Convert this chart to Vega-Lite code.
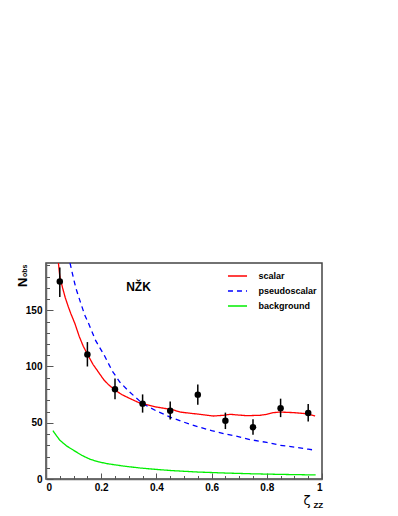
{
  "$schema": "https://vega.github.io/schema/vega-lite/v6.json",
  "width": 276,
  "height": 216,
  "autosize": "none",
  "padding": {"left": 46, "top": 263, "right": 76, "bottom": 37},
  "background": "white",
  "config": {
    "view": {"stroke": "#444", "strokeWidth": 1.5},
    "axis": {"grid": false, "domainColor": "#666", "domainWidth": 1.5, "tickColor": "#555", "tickWidth": 1, "labelFont": "Liberation Sans", "labelFontWeight": "bold", "labelFontSize": 10, "labelColor": "black", "titleColor": "black"},
    "legend": {"symbolType": "M-2.5,0H2.5", "symbolSize": 58, "symbolStrokeWidth": 1.5, "labelFont": "Liberation Sans", "labelFontWeight": "bold", "labelFontSize": 9, "labelColor": "black", "labelOffset": 16, "rowPadding": 5, "padding": 0}
  },
  "datasets": {
    "curves": [
      {"x": 0.045, "y": 192, "series": "scalar"},
      {"x": 0.05, "y": 180, "series": "scalar"},
      {"x": 0.06, "y": 170, "series": "scalar"},
      {"x": 0.07, "y": 161, "series": "scalar"},
      {"x": 0.081, "y": 153, "series": "scalar"},
      {"x": 0.09, "y": 147, "series": "scalar"},
      {"x": 0.105, "y": 138, "series": "scalar"},
      {"x": 0.12, "y": 127, "series": "scalar"},
      {"x": 0.135, "y": 118, "series": "scalar"},
      {"x": 0.15, "y": 111, "series": "scalar"},
      {"x": 0.17, "y": 102, "series": "scalar"},
      {"x": 0.19, "y": 95, "series": "scalar"},
      {"x": 0.21, "y": 88, "series": "scalar"},
      {"x": 0.226, "y": 84, "series": "scalar"},
      {"x": 0.25, "y": 79, "series": "scalar"},
      {"x": 0.275, "y": 75, "series": "scalar"},
      {"x": 0.3, "y": 72, "series": "scalar"},
      {"x": 0.34, "y": 67.5, "series": "scalar"},
      {"x": 0.4, "y": 64, "series": "scalar"},
      {"x": 0.46, "y": 61.5, "series": "scalar"},
      {"x": 0.486, "y": 59.5, "series": "scalar"},
      {"x": 0.52, "y": 58.5, "series": "scalar"},
      {"x": 0.558, "y": 57.5, "series": "scalar"},
      {"x": 0.606, "y": 56, "series": "scalar"},
      {"x": 0.643, "y": 56.6, "series": "scalar"},
      {"x": 0.667, "y": 57.5, "series": "scalar"},
      {"x": 0.7, "y": 56.8, "series": "scalar"},
      {"x": 0.727, "y": 56.3, "series": "scalar"},
      {"x": 0.775, "y": 56.6, "series": "scalar"},
      {"x": 0.8, "y": 57.5, "series": "scalar"},
      {"x": 0.824, "y": 59, "series": "scalar"},
      {"x": 0.848, "y": 59.5, "series": "scalar"},
      {"x": 0.897, "y": 59, "series": "scalar"},
      {"x": 0.945, "y": 58, "series": "scalar"},
      {"x": 0.975, "y": 56, "series": "scalar"},
      {"x": 0.087, "y": 192, "series": "pseudoscalar"},
      {"x": 0.1, "y": 178, "series": "pseudoscalar"},
      {"x": 0.109, "y": 169, "series": "pseudoscalar"},
      {"x": 0.125, "y": 157, "series": "pseudoscalar"},
      {"x": 0.14, "y": 146, "series": "pseudoscalar"},
      {"x": 0.153, "y": 139, "series": "pseudoscalar"},
      {"x": 0.18, "y": 123, "series": "pseudoscalar"},
      {"x": 0.211, "y": 110, "series": "pseudoscalar"},
      {"x": 0.24, "y": 96, "series": "pseudoscalar"},
      {"x": 0.268, "y": 86, "series": "pseudoscalar"},
      {"x": 0.3, "y": 78, "series": "pseudoscalar"},
      {"x": 0.35, "y": 67, "series": "pseudoscalar"},
      {"x": 0.4, "y": 60.5, "series": "pseudoscalar"},
      {"x": 0.45, "y": 55, "series": "pseudoscalar"},
      {"x": 0.5, "y": 50.5, "series": "pseudoscalar"},
      {"x": 0.55, "y": 46.5, "series": "pseudoscalar"},
      {"x": 0.6, "y": 43, "series": "pseudoscalar"},
      {"x": 0.65, "y": 40, "series": "pseudoscalar"},
      {"x": 0.7, "y": 37.5, "series": "pseudoscalar"},
      {"x": 0.74, "y": 35, "series": "pseudoscalar"},
      {"x": 0.8, "y": 32.5, "series": "pseudoscalar"},
      {"x": 0.848, "y": 30, "series": "pseudoscalar"},
      {"x": 0.9, "y": 28.3, "series": "pseudoscalar"},
      {"x": 0.95, "y": 26.5, "series": "pseudoscalar"},
      {"x": 0.978, "y": 25.5, "series": "pseudoscalar"},
      {"x": 0.025, "y": 43, "series": "background"},
      {"x": 0.035, "y": 39.5, "series": "background"},
      {"x": 0.05, "y": 34.5, "series": "background"},
      {"x": 0.075, "y": 29.3, "series": "background"},
      {"x": 0.1, "y": 25.5, "series": "background"},
      {"x": 0.13, "y": 21, "series": "background"},
      {"x": 0.16, "y": 17.5, "series": "background"},
      {"x": 0.19, "y": 15.3, "series": "background"},
      {"x": 0.22, "y": 13.7, "series": "background"},
      {"x": 0.28, "y": 11.5, "series": "background"},
      {"x": 0.34, "y": 9.8, "series": "background"},
      {"x": 0.4, "y": 8.5, "series": "background"},
      {"x": 0.46, "y": 7.4, "series": "background"},
      {"x": 0.55, "y": 6.2, "series": "background"},
      {"x": 0.65, "y": 5.3, "series": "background"},
      {"x": 0.75, "y": 4.6, "series": "background"},
      {"x": 0.85, "y": 4.1, "series": "background"},
      {"x": 0.977, "y": 3.6, "series": "background"}
    ],
    "points": [
      {"x": 0.05, "y": 175.5, "lo": 161.7, "hi": 188},
      {"x": 0.15, "y": 110.7, "lo": 100, "hi": 121.7},
      {"x": 0.25, "y": 79.7, "lo": 70.8, "hi": 89.4},
      {"x": 0.35, "y": 67, "lo": 59, "hi": 75.2},
      {"x": 0.45, "y": 60.7, "lo": 53, "hi": 69},
      {"x": 0.55, "y": 75, "lo": 66, "hi": 84},
      {"x": 0.65, "y": 51.8, "lo": 44.4, "hi": 59},
      {"x": 0.75, "y": 46, "lo": 39.4, "hi": 53},
      {"x": 0.85, "y": 63, "lo": 55, "hi": 71.4},
      {"x": 0.95, "y": 58.6, "lo": 51.2, "hi": 66.6}
    ],
    "label": [{"x": 0.335, "y": 167.5, "t": "NŽK"}]
  },
  "resolve": {"axis": {"x": "independent", "y": "independent"}},
  "layer": [
    {
      "data": {"name": "curves"},
      "mark": {"type": "line", "clip": true, "strokeWidth": 1.3},
      "encoding": {
        "x": {"field": "x", "type": "quantitative", "scale": {"domain": [0, 1], "nice": false, "zero": false},
          "axis": {"orient": "bottom", "values": [0, 0.2, 0.4, 0.6, 0.8, 1], "format": "~g", "tickSize": -6, "labelPadding": 9, "title": "ζ", "titleFont": "DejaVu Sans", "titleFontWeight": "normal", "titleFontSize": 13, "titleAlign": "right", "titleBaseline": "alphabetic", "titleAngle": 0, "titleX": 264, "titleY": 25}},
        "y": {"field": "y", "type": "quantitative", "scale": {"domain": [0, 192], "nice": false, "zero": true},
          "axis": {"orient": "left", "values": [0, 50, 100, 150], "tickSize": -7, "labelPadding": 11, "title": "N", "titleFont": "Liberation Sans", "titleFontWeight": "bold", "titleFontSize": 13, "titleAngle": -90, "titleAlign": "left", "titleBaseline": "alphabetic", "titleX": -19.5, "titleY": 23.5}},
        "color": {"field": "series", "type": "nominal", "scale": {"domain": ["scalar", "pseudoscalar", "background"], "range": ["#ff0000", "#0000ff", "#00ee00"]},
          "legend": {"title": null, "orient": "none", "legendX": 186.5, "legendY": 8}},
        "strokeDash": {"field": "series", "type": "nominal", "scale": {"domain": ["scalar", "pseudoscalar", "background"], "range": [[1, 0], [5, 4], [1, 0]]},
          "legend": {"title": null, "orient": "none", "legendX": 186.5, "legendY": 8}}
      }
    },
    {
      "data": {"name": "points"},
      "mark": {"type": "rule", "color": "black", "strokeWidth": 1.5},
      "encoding": {
        "x": {"field": "x", "type": "quantitative",
          "axis": {"orient": "bottom", "values": [0.05, 0.1, 0.15, 0.25, 0.3, 0.35, 0.45, 0.5, 0.55, 0.65, 0.7, 0.75, 0.85, 0.9, 0.95], "tickSize": -3.5, "labels": false, "domain": false, "title": "ZZ", "titleFont": "Liberation Sans", "titleFontWeight": "bold", "titleFontSize": 8, "titleAlign": "right", "titleBaseline": "alphabetic", "titleAngle": 0, "titleX": 276.7, "titleY": 28.5}},
        "y": {"field": "lo", "type": "quantitative",
          "axis": {"orient": "left", "values": [10, 20, 30, 40, 60, 70, 80, 90, 110, 120, 130, 140, 160, 170, 180, 190], "tickSize": -3.5, "labels": false, "domain": false, "title": "obs", "titleFont": "Liberation Sans", "titleFontWeight": "bold", "titleFontSize": 7, "titleAngle": -90, "titleAlign": "left", "titleBaseline": "alphabetic", "titleX": -19.5, "titleY": 13.6}},
        "y2": {"field": "hi"}
      }
    },
    {
      "data": {"name": "points"},
      "mark": {"type": "circle", "color": "black", "opacity": 1, "size": 42},
      "encoding": {
        "x": {"field": "x", "type": "quantitative", "axis": null},
        "y": {"field": "y", "type": "quantitative", "axis": null}
      }
    },
    {
      "data": {"name": "label"},
      "mark": {"type": "text", "font": "Liberation Sans", "fontWeight": "bold", "fontSize": 12, "align": "center", "baseline": "alphabetic", "color": "black"},
      "encoding": {
        "x": {"field": "x", "type": "quantitative", "axis": null},
        "y": {"field": "y", "type": "quantitative", "axis": null},
        "text": {"field": "t"}
      }
    }
  ]
}
